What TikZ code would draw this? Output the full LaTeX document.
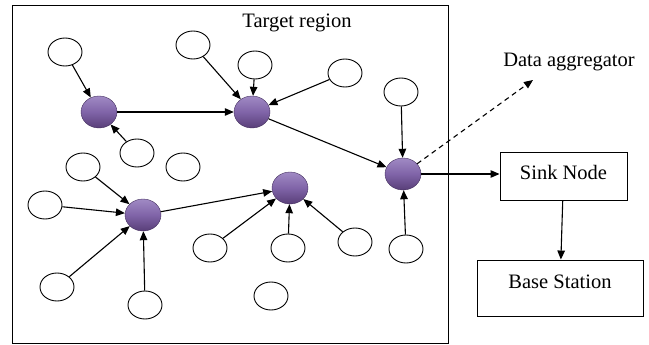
\documentclass[tikz,border=0pt]{standalone}
\usepackage{fontspec}
\setmainfont{Liberation Serif}
\usetikzlibrary{shapes.geometric,arrows.meta}
\definecolor{chlight}{RGB}{160,138,196}
\definecolor{chmid}{RGB}{128,100,168}
\definecolor{chdark}{RGB}{88,62,120}
\tikzset{
  sensor/.style={ellipse,draw=black,line width=0.9pt,fill=white,minimum width=34pt,minimum height=28pt,inner sep=0pt},
  chead/.style={ellipse,minimum width=36pt,minimum height=32pt,inner sep=0pt,
     top color=chlight,bottom color=chdark,middle color=chmid,draw=chdark!80!black,line width=0.4pt},
  link/.style={line width=1.1pt,-{Triangle[length=9pt,width=7.5pt]}},
  dlink/.style={line width=1.1pt,dashed,dash pattern=on 5pt off 4pt,-{Triangle[length=9pt,width=7.5pt]}},
  boxnode/.style={draw=black,line width=0.9pt,fill=white,font=\fontsize{20.5}{24}\selectfont},
  lbl/.style={font=\fontsize{20.5}{24}\selectfont,inner sep=0pt}
}
\begin{document}
\begin{tikzpicture}[x=1pt,y=-1pt]
\useasboundingbox (0,0) rectangle (649,345);
\draw[line width=0.9pt] (12,5) rectangle (448,343);
\node[lbl] (title) at (297,23) {Target region};
% cluster heads
\node[chead] (c1) at (99,112) {};
\node[chead] (c2) at (252,112) {};
\node[chead] (c3) at (143,215) {};
\node[chead] (c4) at (290,188) {};
\node[chead] (c5) at (403,174) {};
% sensors
\node[sensor] (s1) at (65,52) {};
\node[sensor] (s2) at (193,45) {};
\node[sensor] (s3) at (255,65) {};
\node[sensor] (s4) at (345,73) {};
\node[sensor] (s5) at (401,92) {};
\node[sensor] (s6) at (137,153) {};
\node[sensor] (s7) at (83,167) {};
\node[sensor] (s8) at (183,167) {};
\node[sensor] (s9) at (45,205) {};
\node[sensor] (s10) at (57,287) {};
\node[sensor] (s11) at (145,305) {};
\node[sensor] (s12) at (210,248) {};
\node[sensor] (s13) at (288,248) {};
\node[sensor] (s14) at (271,296) {};
\node[sensor] (s15) at (355,242) {};
\node[sensor] (s16) at (406,249) {};
% boxes
\node[boxnode,minimum width=127pt,minimum height=48pt,text depth=8pt] (sink) at (563.5,176) {Sink Node};
\node[boxnode,minimum width=166pt,minimum height=56pt,text depth=12pt] (base) at (560,288) {Base Station};
\node[lbl] (agg) at (569,62) {Data aggregator};
\coordinate (aggend) at (533,80);
% edges
\draw[link] (s1) -- (c1);
\draw[link] (s6) -- (c1);
\draw[link] (c1) -- (c2);
\draw[link] (s2) -- (c2);
\draw[link] (s3) -- (c2);
\draw[link] (s4) -- (c2);
\draw[link] (c2) -- (c5);
\draw[link] (s5) -- (c5);
\draw[link] (s16) -- (c5);
\draw[link] (c5) -- (sink.west|-c5);
\draw[dlink] (c5) -- (aggend);
\draw[link] (s7) -- (c3);
\draw[link] (s9) -- (c3);
\draw[link] (s10) -- (c3);
\draw[link] (s11) -- (c3);
\draw[link] (c3) -- (c4);
\draw[link] (s12) -- (c4);
\draw[link] (s13) -- (c4);
\draw[link] (s15) -- (c4);
\draw[link] (sink) -- (base);
\end{tikzpicture}
\end{document}
